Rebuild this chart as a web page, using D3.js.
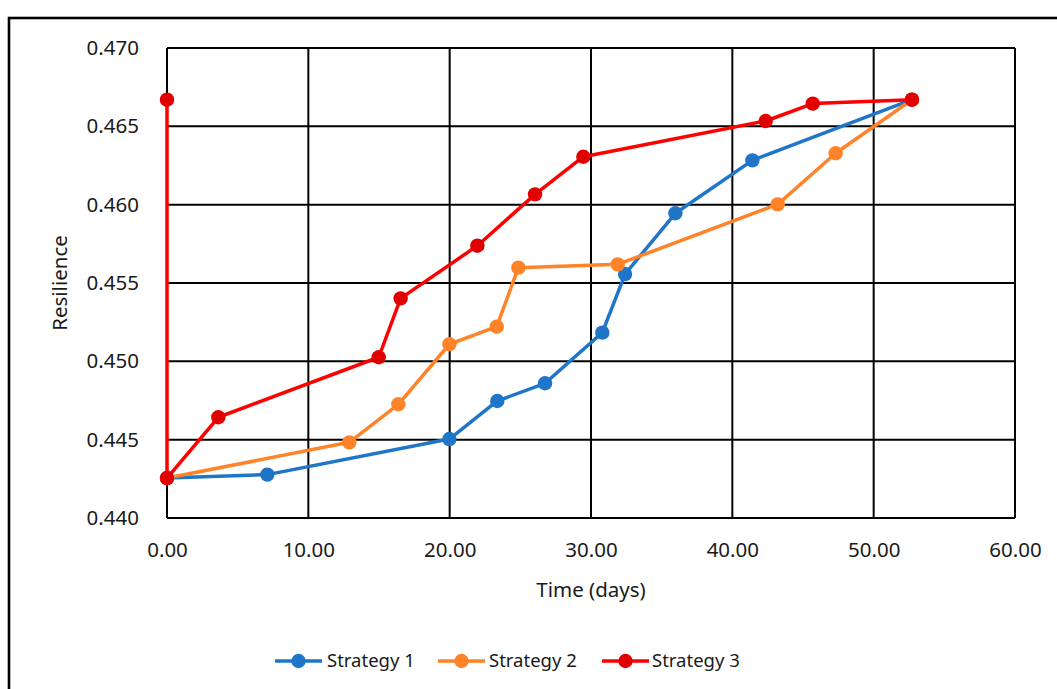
<!DOCTYPE html>
<html>
<head>
<meta charset="utf-8">
<script src="https://cdn.jsdelivr.net/npm/d3@7"></script>
<style>
  html, body { margin: 0; padding: 0; background: #fff; }
  svg { display: block; }
  text { font-family: "Noto Sans", "Open Sans", sans-serif; fill: #1a1a1a; }
</style>
</head>
<body>
<svg id="chart" width="1057" height="689"></svg>
<script>
// Resilience over time for three restoration strategies
const seriesNames = ["Strategy 1", "Strategy 2", "Strategy 3"];

const s1Time = [0.00, 7.10, 19.98, 23.37, 26.75, 30.80, 32.41, 35.97, 41.42, 52.71];
const s1Res  = [0.44255, 0.44277, 0.44504, 0.44747, 0.44860, 0.45183, 0.45557, 0.45945, 0.46283, 0.46670];

const s2Time = [0.00, 12.90, 16.37, 19.98, 23.33, 24.86, 31.89, 43.21, 47.31, 52.71];
const s2Res  = [0.44255, 0.44483, 0.44726, 0.45109, 0.45221, 0.45598, 0.45619, 0.46002, 0.46328, 0.46670];

const s3Time = [0.00, 0.00, 3.63, 14.98, 16.53, 21.96, 26.04, 29.46, 42.36, 45.69, 52.71];
const s3Res  = [0.46670, 0.44255, 0.44643, 0.45026, 0.45402, 0.45738, 0.46066, 0.46306, 0.46534, 0.46645, 0.46670];

const xTicks = [0, 10, 20, 30, 40, 50, 60];
const yTicks = [0.440, 0.445, 0.450, 0.455, 0.460, 0.465, 0.470];

const lineColors   = ["#1F75C8", "#FF8429", "#FF0000"];
const markerColors = ["#1F75C8", "#FF8429", "#E00000"];

const svg = d3.select("#chart");

// outer chart frame (runs past the right and bottom edges)
svg.append("rect")
  .attr("x", 9).attr("y", 18)
  .attr("width", 1200).attr("height", 800)
  .attr("fill", "none").attr("stroke", "#000").attr("stroke-width", 2.6);

const plot = { left: 167, right: 1015, top: 48, bottom: 518 };

const x = d3.scaleLinear().domain([0, 60]).range([plot.left, plot.right]);
const y = d3.scaleLinear().domain([0.440, 0.470]).range([plot.bottom, plot.top]);

// gridlines
const g = svg.append("g");
g.selectAll(".vgrid").data(xTicks).join("line")
  .attr("x1", d => x(d)).attr("x2", d => x(d))
  .attr("y1", plot.top).attr("y2", plot.bottom)
  .attr("stroke", "#000").attr("stroke-width", 2);
g.selectAll(".hgrid").data(yTicks).join("line")
  .attr("x1", plot.left).attr("x2", plot.right)
  .attr("y1", d => y(d)).attr("y2", d => y(d))
  .attr("stroke", "#000").attr("stroke-width", 2);

// axes (labels only; grid forms the axis lines)
const xAxis = d3.axisBottom(x).tickValues(xTicks).tickFormat(d3.format(".2f")).tickSize(0).tickPadding(24);
const yAxis = d3.axisLeft(y).tickValues(yTicks).tickFormat(d3.format(".3f")).tickSize(0).tickPadding(28);

const gx = svg.append("g").attr("transform", `translate(0,${plot.bottom})`).call(xAxis);
const gy = svg.append("g").attr("transform", `translate(${plot.left},0)`).call(yAxis);
[gx, gy].forEach(a => {
  a.select(".domain").remove();
  a.selectAll("text").attr("font-size", 20.5).attr("fill", "#1a1a1a")
    .style("font-family", '"Noto Sans", sans-serif');
});
gx.selectAll("text").attr("dy", "0.32em").attr("y", 32);

// axis titles
svg.append("text")
  .attr("x", 591).attr("y", 590).attr("dy", "0.35em")
  .attr("text-anchor", "middle").attr("font-size", 20.5)
  .text("Time (days)");
svg.append("text")
  .attr("transform", "translate(60,283) rotate(-90)")
  .attr("dy", "0.35em")
  .attr("text-anchor", "middle").attr("font-size", 20.5)
  .text("Resilience");

// series
const series = [
  { name: seriesNames[0], pts: s1Time.map((t, i) => [t, s1Res[i]]) },
  { name: seriesNames[1], pts: s2Time.map((t, i) => [t, s2Res[i]]) },
  { name: seriesNames[2], pts: s3Time.map((t, i) => [t, s3Res[i]]) }
];

const line = d3.line().x(d => x(d[0])).y(d => y(d[1]));

series.forEach((s, i) => {
  const sg = svg.append("g");
  sg.append("path").datum(s.pts)
    .attr("d", line)
    .attr("fill", "none")
    .attr("stroke", lineColors[i])
    .attr("stroke-width", 3.5)
    .attr("stroke-linejoin", "round");
  sg.selectAll("circle").data(s.pts).join("circle")
    .attr("cx", d => x(d[0])).attr("cy", d => y(d[1]))
    .attr("r", 7.2)
    .attr("fill", markerColors[i]);
});

// legend
const legendItems = [
  { x0: 275, tx: 330 },
  { x0: 438, tx: 492 },
  { x0: 602, tx: 655 }
];
const lg = svg.append("g");
legendItems.forEach((li, i) => {
  lg.append("line")
    .attr("x1", li.x0).attr("x2", li.x0 + 47)
    .attr("y1", 661).attr("y2", 661)
    .attr("stroke", lineColors[i]).attr("stroke-width", 3.5);
  lg.append("circle")
    .attr("cx", li.x0 + 23.5).attr("cy", 661).attr("r", 7.2)
    .attr("fill", markerColors[i]);
  lg.append("text")
    .attr("x", li.tx - 3).attr("y", 661).attr("dy", "0.35em")
    .attr("font-size", 18.5)
    .text(seriesNames[i]);
});
</script>
</body>
</html>
